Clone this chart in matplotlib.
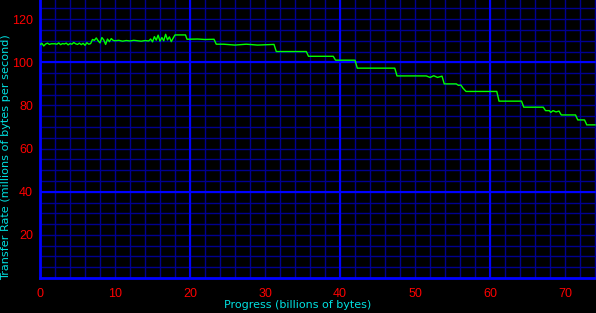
import matplotlib
matplotlib.use('Agg')
import matplotlib.pyplot as plt
import numpy as np

# progress in billions of bytes, rate in millions of bytes per second
progress = [0.0, 0.25, 0.5, 0.75, 1.0, 1.25, 1.5, 1.75, 2.0, 2.25, 2.5, 2.75, 3.0, 3.25,
            3.5, 3.75, 4.0, 4.25, 4.5, 4.75, 5.0, 5.25, 5.5, 5.75, 6.0, 6.25, 6.5, 6.75,
            7.0, 7.25, 7.5, 7.75, 8.0, 8.25, 8.5, 8.75, 9.0, 9.25, 9.5, 9.75,
            10.0, 10.5, 11.0, 11.5, 12.0, 12.5, 13.0, 13.5, 14.0, 14.5,
            14.75, 15.0, 15.25, 15.5, 15.75, 16.0, 16.25, 16.5, 16.75, 17.0, 17.25, 17.5, 17.75,
            18.0, 19.4, 19.6, 21.0, 22.0, 23.2, 23.5, 24.5, 26.0, 27.5, 29.0, 31.2,
            31.5, 33.0, 35.5, 35.8, 37.0, 39.1, 39.4, 40.5, 42.0, 42.3, 44.0, 47.3,
            47.6, 49.0, 51.5, 52.0, 52.5, 53.0, 53.6, 53.9, 55.5, 55.8, 56.1, 56.4,
            56.8, 59.0, 60.9, 61.2, 62.0, 64.2, 64.5, 66.0, 67.1, 67.4, 67.9, 68.1,
            68.4, 68.8, 69.2, 69.5, 70.5, 71.4, 71.7, 72.6, 72.9, 74.0]
rate = [108.2, 108.8, 107.6, 108.5, 108.9, 108.3, 108.6, 108.6, 108.6, 108.4, 109.0, 108.2, 108.7, 108.5,
        108.9, 108.1, 108.7, 108.4, 109.2, 108.6, 108.3, 108.9, 108.2, 108.8, 107.9, 109.1, 108.4, 108.7,
        110.6, 110.2, 111.3, 110.0, 109.0, 111.5, 110.4, 108.3, 110.8, 109.6, 111.0, 110.2,
        110.0, 110.2, 109.8, 110.1, 109.9, 110.2, 110.0, 109.8, 110.1, 109.9,
        110.8, 109.5, 111.9, 110.3, 112.6, 109.8, 111.5, 110.0, 113.0, 110.4, 111.8, 109.6, 111.2,
        112.7, 112.7, 110.7, 110.8, 110.6, 110.7, 108.4, 108.4, 108.0, 108.4, 108.0, 108.3,
        105.0, 105.0, 105.0, 102.8, 102.8, 102.8, 101.0, 101.0, 101.0, 97.3, 97.3, 97.3,
        93.7, 93.7, 93.7, 93.0, 93.8, 93.0, 93.6, 90.0, 90.0, 89.3, 89.5, 88.0,
        86.5, 86.5, 86.5, 82.0, 82.0, 82.0, 79.2, 79.2, 79.2, 77.6, 77.6, 76.8,
        77.6, 77.0, 77.4, 75.6, 75.6, 75.6, 73.3, 73.3, 71.0, 71.0]

x_ticks = [0, 10, 20, 30, 40, 50, 60, 70]
y_ticks = [20, 40, 60, 80, 100, 120]
x_bright = [20, 40, 60]
y_bright = [40, 100]

fig = plt.figure(figsize=(5.96, 3.13), dpi=100, facecolor='black')
ax = fig.add_axes([40/596, 35/313, 556/596, 278/313], facecolor='black')

ax.set_xlim(0, 74.13)
ax.set_ylim(0, 128.9)

ax.set_xticks(x_ticks)
ax.set_yticks(y_ticks)
ax.set_xticks(np.arange(0, 75, 2), minor=True)
ax.set_yticks(np.arange(0, 129, 5), minor=True)
ax.grid(which='both', color='#000090', linewidth=1.0)
ax.set_axisbelow(True)
for v in x_bright:
    ax.axvline(v, color='#0000ff', linewidth=1.5, zorder=1)
for v in y_bright:
    ax.axhline(v, color='#0000ff', linewidth=1.5, zorder=1)

for s in ['top', 'right']:
    ax.spines[s].set_visible(False)
for s in ['left', 'bottom']:
    ax.spines[s].set_color('#0000ff')
    ax.spines[s].set_linewidth(2)

ax.tick_params(which='both', length=0, colors='#ff0000', labelsize=9)
ax.tick_params(axis='x', pad=7)
ax.tick_params(axis='y', pad=5)
for lab in ax.get_xticklabels() + ax.get_yticklabels():
    lab.set_family('Liberation Sans')

ax.plot(progress, rate, color='#00ff00', linewidth=1.0, zorder=3)

# axis labels placed by hand so they fit the small canvas
fig.text(298/596, 1 - 305/313, 'Progress (billions of bytes)', color='#00e0e0',
         fontsize=8, ha='center', va='center')
fig.text(6/596, 1 - 157/313, 'Transfer Rate (millions of bytes per second)', color='#00e0e0',
         fontsize=8.1, ha='center', va='center', rotation=90)

fig.savefig('out.png', dpi=100, facecolor='black')
